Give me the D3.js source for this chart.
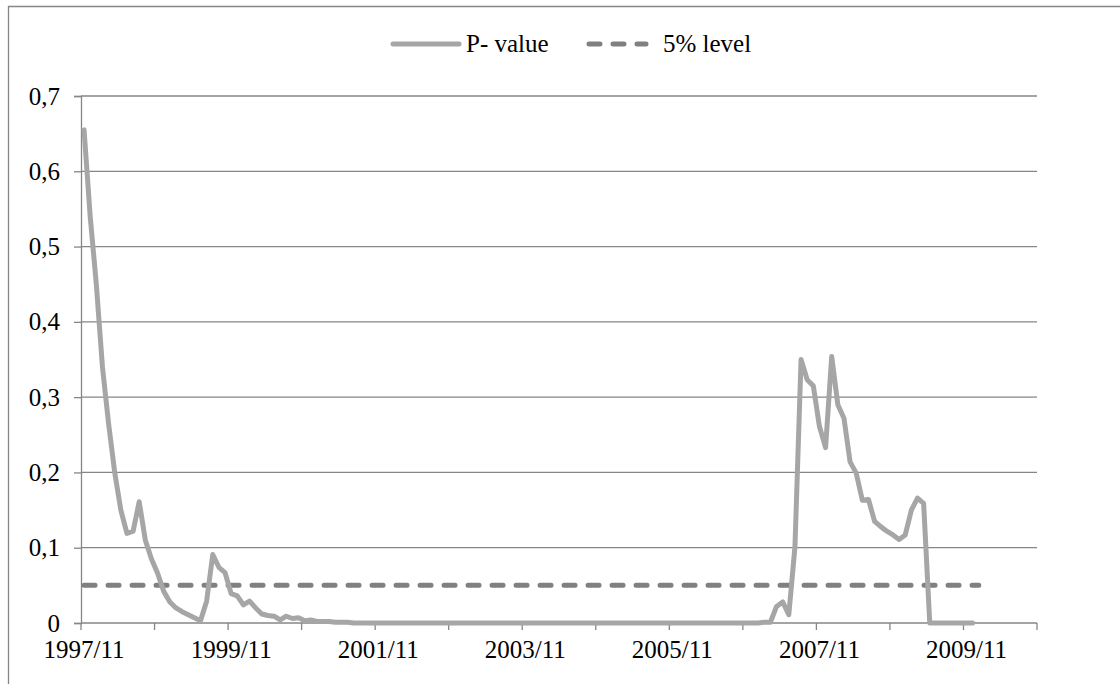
<!DOCTYPE html>
<html>
<head>
<meta charset="utf-8">
<script src="https://cdn.jsdelivr.net/npm/d3@7"></script>
<style>
  body { margin: 0; background: #fff; }
</style>
</head>
<body>
<svg id="chart" width="1120" height="684"></svg>
<script>
// monthly p-values, starting 1997/11
var startYear = 1997, startMonth = 11;
var pValues = [
  0.655, 0.54, 0.45, 0.34, 0.265, 0.20, 0.15, 0.119, 0.122, 0.161,
  0.11, 0.085, 0.066, 0.042, 0.028, 0.02, 0.015, 0.011, 0.007, 0.003,
  0.029, 0.091, 0.074, 0.067, 0.039, 0.036, 0.024, 0.029, 0.02, 0.012,
  0.01, 0.009, 0.004, 0.009, 0.006, 0.007, 0.003, 0.004, 0.002, 0.002,
  0.002, 0.001, 0.001, 0.001, 0, 0, 0, 0, 0, 0,
  0, 0, 0, 0, 0, 0, 0, 0, 0, 0,
  0, 0, 0, 0, 0, 0, 0, 0, 0, 0,
  0, 0, 0, 0, 0, 0, 0, 0, 0, 0,
  0, 0, 0, 0, 0, 0, 0, 0, 0, 0,
  0, 0, 0, 0, 0, 0, 0, 0, 0, 0,
  0, 0, 0, 0, 0, 0, 0, 0, 0, 0,
  0, 0.001, 0.001, 0.022, 0.028, 0.011, 0.101, 0.35, 0.323, 0.315,
  0.261, 0.233, 0.354, 0.29, 0.272, 0.214, 0.199, 0.163, 0.164, 0.135,
  0.128, 0.122, 0.117, 0.111, 0.117, 0.15, 0.166, 0.159, 0, 0,
  0, 0, 0, 0, 0, 0
];
// 5% level runs over these categories
var levelValue = 0.05;
var levelRange = [0, 146];
var categoryCount = 156;  // axis has room for 13 years
var yTicks = [0, 0.1, 0.2, 0.3, 0.4, 0.5, 0.6, 0.7];
var seriesNames = ["P- value", "5% level"];

// category labels "yyyy/mm"
var categories = [];
for (var i = 0; i < categoryCount; i++) {
  var m = startMonth - 1 + i;
  categories.push((startYear + Math.floor(m / 12)) + "/" + ((m % 12) + 1));
}

var svg = d3.select("#chart");
var font = '"Liberation Serif", "Times New Roman", serif';
var gridColor = "#868686";
var margin = {left: 81, right: 1037, top: 96, bottom: 623};

// chart border (only top and left are inside the picture)
svg.append("path")
  .attr("d", "M8.5,684V6.5H1120")
  .attr("fill", "none").attr("stroke", gridColor).attr("stroke-width", 1.3);

var x = d3.scaleBand().domain(categories).range([margin.left, margin.right]).paddingInner(0).paddingOuter(0);
var y = d3.scaleLinear().domain([0, 0.7]).range([margin.bottom, margin.top]);
var cx = function(i) { return x(categories[i]) + x.bandwidth() / 2; };

// gridlines
svg.append("g").selectAll("line").data(yTicks.slice(1)).enter().append("line")
  .attr("x1", margin.left).attr("x2", margin.right)
  .attr("y1", function(d) { return y(d); }).attr("y2", function(d) { return y(d); })
  .attr("stroke", gridColor).attr("stroke-width", 1.3);

// y axis
var yAxis = d3.axisLeft(y).tickValues(yTicks).tickSize(7).tickPadding(14)
  .tickFormat(function(d) { return d === 0 ? "0" : d3.format(".1f")(d).replace(".", ","); });
var gy = svg.append("g").attr("transform", "translate(" + margin.left + ",0)").call(yAxis);
gy.select(".domain").attr("stroke", gridColor).attr("stroke-width", 1.3);
gy.selectAll(".tick line").attr("stroke", gridColor).attr("stroke-width", 1.3);
gy.selectAll(".tick text").style("font-size", "25px").style("font-family", font).attr("fill", "#000");

// x axis: ticks each 12 months, labels each 24 months
var tickCats = categories.filter(function(d, i) { return i % 12 === 0; });
var gx = svg.append("g").attr("transform", "translate(0," + margin.bottom + ")");
gx.append("line").attr("x1", margin.left).attr("x2", margin.right)
  .attr("stroke", gridColor).attr("stroke-width", 1.3);
gx.selectAll(".xtick").data(tickCats.concat(["end"])).enter().append("line")
  .attr("x1", function(d) { return d === "end" ? margin.right : x(d); })
  .attr("x2", function(d) { return d === "end" ? margin.right : x(d); })
  .attr("y1", 0).attr("y2", 7)
  .attr("stroke", gridColor).attr("stroke-width", 1.3);
gx.selectAll(".xlabel").data(categories.filter(function(d, i) { return i % 24 === 0; })).enter().append("text")
  .attr("x", function(d) { return x(d) + x.bandwidth() / 2; })
  .attr("y", 35)
  .attr("text-anchor", "middle")
  .style("font-size", "25px").style("font-family", font)
  .text(function(d) { return d; });

// 5% level
var level = [levelRange[0], levelRange[1]];
svg.append("path")
  .attr("d", d3.line().x(function(d) { return cx(d); }).y(function() { return y(levelValue); })(level))
  .attr("fill", "none").attr("stroke", "#808080").attr("stroke-width", 5)
  .attr("stroke-linecap", "round").attr("stroke-dasharray", "11,13");

// p-value line
svg.append("path")
  .attr("d", d3.line().x(function(d, i) { return cx(i); }).y(function(d) { return y(d); })(pValues))
  .attr("fill", "none").attr("stroke", "#a6a6a6").attr("stroke-width", 5)
  .attr("stroke-linejoin", "round").attr("stroke-linecap", "round");

// legend
var legend = svg.append("g");
legend.append("line").attr("x1", 393).attr("x2", 459).attr("y1", 44).attr("y2", 44)
  .attr("stroke", "#a6a6a6").attr("stroke-width", 5).attr("stroke-linecap", "round");
legend.append("text").attr("x", 466).attr("y", 52)
  .style("font-size", "25px").style("font-family", font).text(seriesNames[0]);
legend.append("line").attr("x1", 589).attr("x2", 646).attr("y1", 44).attr("y2", 44)
  .attr("stroke", "#808080").attr("stroke-width", 5).attr("stroke-linecap", "round")
  .attr("stroke-dasharray", "11,13");
legend.append("text").attr("x", 663).attr("y", 52)
  .style("font-size", "25px").style("font-family", font).text(seriesNames[1]);
</script>
</body>
</html>
